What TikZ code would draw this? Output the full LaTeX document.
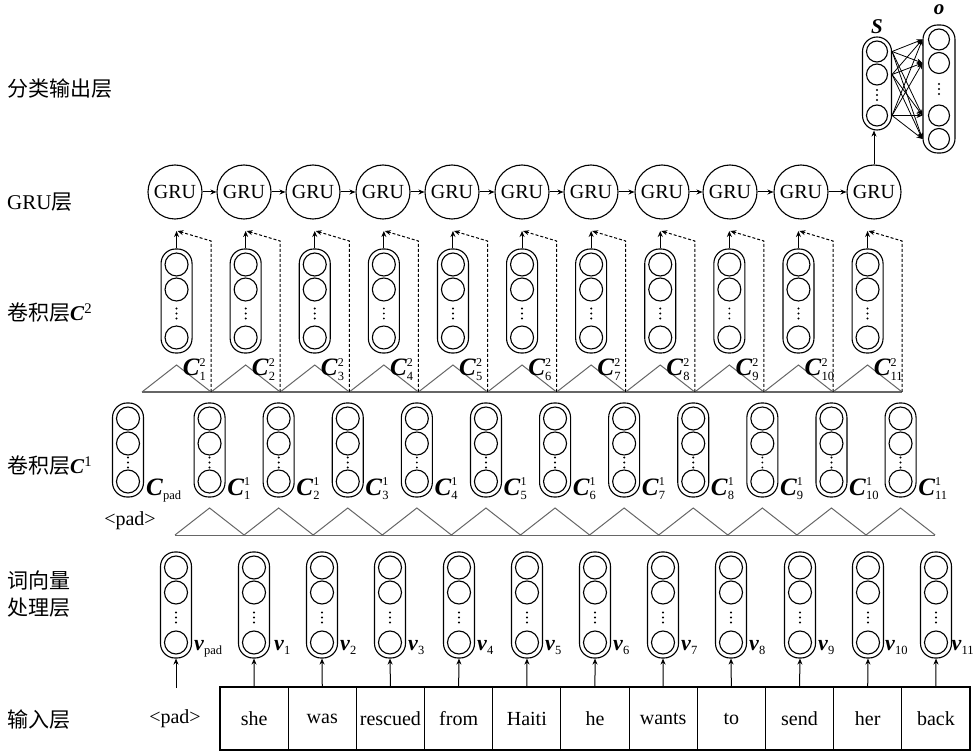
\documentclass[tikz,border=0pt]{standalone}
\usepackage{fontspec}
\setmainfont{Liberation Serif}
\newfontfamily\cjk{Noto Sans CJK SC}
\usetikzlibrary{arrows.meta}
\tikzset{
  capbox/.style={draw, line width=1.1pt, rounded corners=14.5pt, inner sep=0pt},
  cellc/.style={draw, circle, line width=1.1pt, inner sep=0pt},
  gru/.style={draw, circle, line width=1.1pt, minimum size=54pt, inner sep=0pt, font=\fontsize{20}{20}\selectfont},
  wordbox/.style={draw, line width=1.1pt, minimum width=68.18pt, minimum height=63pt, inner sep=0pt, font=\fontsize{20}{24}\selectfont},
  arr/.style={-{Stealth[length=6pt,width=5pt]}, line width=1pt},
  tri/.style={draw=black!60, line width=1pt},
  layerlbl/.style={anchor=west, font=\fontsize{21}{27}\selectfont, align=left, inner sep=0pt},
  vlab/.style={anchor=base west, inner sep=0pt, font=\fontsize{22}{22}\selectfont},
  clab/.style={anchor=base west, inner sep=0pt, font=\fontsize{25}{25}\selectfont},
}
\newcommand\lbl[3]{\textbf{\textit{#1}}\rlap{\raisebox{9.8pt}{\fontsize{12}{12}\selectfont #2}}{\raisebox{-4.8pt}{\fontsize{12.5}{12.5}\selectfont #3}}}
% name, x, top, bottom, radius
\newcommand\capsule[5]{%
  \node[capbox, minimum width={2*#5+8}, minimum height={#4-#3}] (#1) at (#2,{(#3+#4)/2}) {};
  \node[cellc, minimum size={2*#5}] (#1-1) at (#2,{#3+#5+4}) {};
  \node[cellc, minimum size={2*#5}] (#1-2) at (#2,{#3+3*#5+6}) {};
  \node[cellc, minimum size={2*#5}] (#1-3) at (#2,{#4-#5-4}) {};
  \foreach \dy in {-5,0,5} \fill (#2,{(#3+3*#5+6+#4-#5-4)/2+\dy}) circle (1.1pt);
}
\begin{document}
\begin{tikzpicture}[x=1pt,y=-1pt]
\useasboundingbox (0,0) rectangle (975,751);

% ---------- layer labels ----------
\node[layerlbl] (L1) at (7,89) {\cjk 分类输出层};
\node[layerlbl] (L2) at (7,202) {GRU{\cjk 层}};
\node[layerlbl] (L3) at (7,313) {{\cjk 卷积层}\textbf{\textit{C}}\textsuperscript{2}};
\node[layerlbl] (L4) at (7,466) {{\cjk 卷积层}\textbf{\textit{C}}\textsuperscript{1}};
\node[layerlbl] (L5) at (7,594) {\cjk 词向量\\\cjk 处理层};
\node[layerlbl] (L6) at (7,720) {\cjk 输入层};

% ---------- input layer ----------
\foreach \w [count=\i] in {she,was,rescued,from,Haiti,he,wants,to,send,her,back} {
  \node[wordbox] (w\i) at ({220+68.18*(\i-0.5)},718.5) {\w};
}
\node[font=\fontsize{20}{20}\selectfont] (padin) at (175,719) {\textless pad\textgreater};
\coordinate (padsrc) at (176,688);

% ---------- word vectors ----------
\capsule{vp}{176}{552}{658}{11.5}
\draw[arr] (padsrc) -- (vp.south);
\node[vlab] (vlp) at (194,650) {\lbl{v}{}{pad}};
\foreach \x/\dx [count=\i] in {254/20,322/18,390/18,459/18,527/18,595/18,663/18,731/18,800/18,868/17,936/15.5} {
  \capsule{v\i}{\x}{552}{658}{11.5}
  \draw[arr] (w\i.north) -- (v\i.south);
  \node[vlab] (vl\i) at ({\x+\dx},650) {\lbl{v}{}{\i}};
}

% ---------- conv layer C1 ----------
\draw[tri] (175,535) -- (935,535);
\draw[tri] (175,535) \foreach \i in {1,...,11} { -- ({175+69.1*(\i-0.5)},508) -- ({175+69.1*\i},535) };
\capsule{cp}{128}{403}{497}{11.5}
\node[clab] (clp) at (146,495) {\lbl{C}{}{pad}};
\node[font=\fontsize{20}{20}\selectfont] (padc) at (130,521) {\textless pad\textgreater};
\foreach \i in {1,...,11} {
  \pgfmathsetmacro\xx{175+69.1*(\i-0.5)}
  \capsule{ca\i}{\xx}{403}{497}{11.5}
  \node[clab] (cal\i) at ({\xx+17.5},495) {\lbl{C}{1}{\i}};
}

% ---------- conv layer C2 ----------
\draw[tri] (142,392) -- (902,392);
\draw[tri] (142,392) \foreach \i in {1,...,11} { -- ({142+69.1*(\i-0.5)},365) -- ({142+69.1*\i},392) };
\foreach \i in {1,...,11} {
  \pgfmathsetmacro\xx{142+69.1*(\i-0.5)}
  \pgfmathsetmacro\xd{142+69.1*\i}
  \capsule{cb\i}{\xx}{249}{353}{11.5}
  \node[clab] (cbl\i) at ({\xx+6},376) {\lbl{C}{2}{\i}};
  \coordinate (t\i) at (\xx,231);
  \coordinate (d\i) at (\xd,392);
  \coordinate (k\i) at (\xd,241);
  \draw[arr] (cb\i.north) -- (t\i);
  \draw[arr, dash pattern=on 3pt off 2pt] (d\i) -- (k\i) -- ([xshift=1pt]t\i);
}

% ---------- GRU layer ----------
\foreach \x [count=\i] in {175,244,313,383,452,522,591,662,730,801,874} {
  \node[gru] (g\i) at (\x,192) {GRU};
}
\foreach \i [evaluate=\i as \j using int(\i+1)] in {1,...,10} {
  \draw[arr] (g\i.east) -- (g\j.west);
}

% ---------- output layer ----------
\capsule{S}{877}{37}{130}{10.5}
\node[capbox, minimum width=32pt, minimum height=128pt] (O) at (939,89) {};
\node[cellc, minimum size=21pt] (O-1) at (939,39.5) {};
\node[cellc, minimum size=21pt] (O-2) at (939,63) {};
\node[cellc, minimum size=21pt] (O-3) at (939,115.5) {};
\node[cellc, minimum size=21pt] (O-4) at (939,139) {};
\foreach \dy in {-5,0,5} \fill (939,{89+\dy}) circle (1.1pt);
\node[font=\bfseries\itshape\fontsize{21}{21}\selectfont, inner sep=0pt] (Slab) at (877,27) {S};
\node[font=\bfseries\itshape\fontsize{21}{21}\selectfont, inner sep=0pt] (Olab) at (939,10) {o};
\draw[arr] (g11.north) -- (g11.north |- S.south);
\foreach \s in {1,2,3} {
  \foreach \o in {1,2,3,4} {
    \draw[arr, line width=0.8pt] (S.east |- S-\s) -- (O.west |- O-\o);
  }
}
\end{tikzpicture}
\end{document}
